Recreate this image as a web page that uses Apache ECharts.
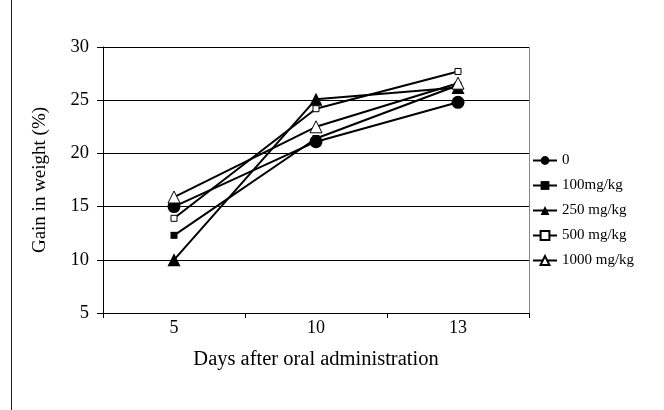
<!DOCTYPE html>
<html><head><meta charset="utf-8">
<script src="https://cdn.jsdelivr.net/npm/echarts@6/dist/echarts.min.js"></script>
<style>html,body{margin:0;padding:0;background:#fff}#c{width:664px;height:410px}</style>
</head><body><div id="c"></div>
<script>
const categories = ['5', '10', '13'];
const seriesNames = ['0', '100mg/kg', '250 mg/kg', '500 mg/kg', '1000 mg/kg'];
const s0 = [15.0, 21.1, 24.8];
const s100 = [12.3, 21.4, 26.4];
const s250 = [10.0, 25.1, 26.2];
const s500 = [13.9, 24.2, 27.7];
const s1000 = [15.9, 22.5, 26.6];
const yTicks = [5, 10, 15, 20, 25, 30];

const FONT = '"Liberation Serif", "Times New Roman", serif';
const styles = [
  {symbol: 'circle', symbolSize: 13, fill: '#000'},
  {symbol: 'rect', symbolSize: 7, fill: '#000'},
  {symbol: 'triangle', symbolSize: 13, fill: '#000'},
  {symbol: 'rect', symbolSize: 6, fill: '#fff'},
  {symbol: 'triangle', symbolSize: 12, fill: '#fff'}
];
const data = [s0, s100, s250, s500, s1000];

const chart = echarts.init(document.getElementById('c'), null, {renderer: 'canvas'});
chart.setOption({
  animation: false,
  backgroundColor: '#fff',
  graphic: [{type: 'line', shape: {x1: 11.5, y1: 0, x2: 11.5, y2: 410}, style: {stroke: '#222', lineWidth: 1}}],
  grid: {left: 103, right: 135, top: 47, bottom: 97},
  legend: {
    orient: 'vertical', left: 527, top: 148, itemWidth: 24, itemHeight: 11, itemGap: 10,
    textStyle: {fontFamily: FONT, fontSize: 15, color: '#000'},
    data: seriesNames
  },
  xAxis: {
    type: 'category', data: categories, boundaryGap: true,
    axisLine: {lineStyle: {color: '#000', width: 1}},
    axisTick: {show: true, inside: false, length: 5, lineStyle: {color: '#000'}},
    axisLabel: {fontFamily: FONT, fontSize: 18, color: '#000', margin: 6},
    name: 'Days after oral administration', nameLocation: 'middle', nameGap: 36,
    nameTextStyle: {fontFamily: FONT, fontSize: 20.5, color: '#000'}
  },
  yAxis: [{
    type: 'value', min: 5, max: 30, interval: 5,
    axisLine: {show: true, lineStyle: {color: '#000', width: 1}},
    axisTick: {show: true, length: 6, lineStyle: {color: '#000'}},
    axisLabel: {fontFamily: FONT, fontSize: 18.5, color: '#000', margin: 14,
      formatter: v => yTicks.indexOf(v) >= 0 ? String(v) : ''},
    splitLine: {show: true, lineStyle: {color: '#000', width: 1}},
    name: 'Gain in weight (%)', nameLocation: 'middle', nameGap: 53,
    nameTextStyle: {fontFamily: FONT, fontSize: 19, color: '#000'}
  }, {
    type: 'value', min: 5, max: 30, interval: 5, position: 'right',
    axisLine: {show: true, lineStyle: {color: '#888', width: 1}},
    axisTick: {show: false}, axisLabel: {show: false}, splitLine: {show: false}
  }],
  series: seriesNames.map((n, i) => ({
    name: n, type: 'line', data: data[i], yAxisIndex: 0,
    symbol: styles[i].symbol, symbolSize: styles[i].symbolSize,
    showAllSymbol: true,
    lineStyle: {color: '#000', width: 2},
    itemStyle: {color: styles[i].fill, borderColor: '#000', borderWidth: styles[i].fill === '#fff' ? 1 : 0},
    z: 3 + i
  }))
});
</script></body></html>
